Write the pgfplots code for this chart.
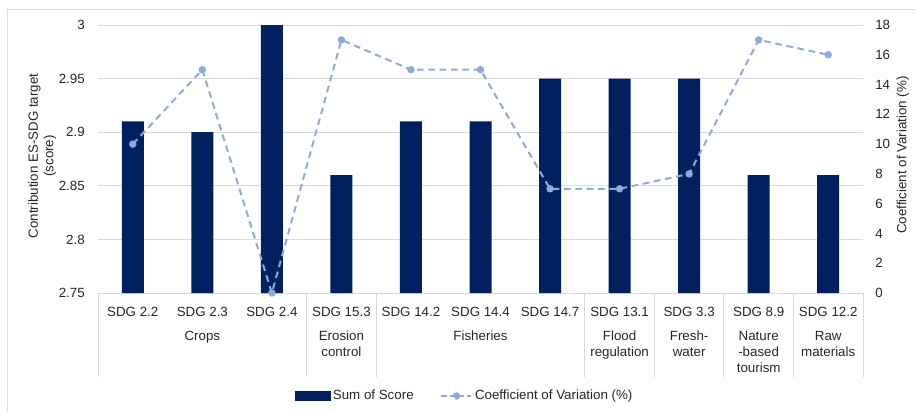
\documentclass[border=0pt]{standalone}
\usepackage{fontspec}
\setmainfont{Liberation Sans}
\usepackage{pgfplots}
\pgfplotsset{compat=1.18}
\definecolor{navy}{HTML}{002060}
\definecolor{cvblue}{HTML}{8EA9DB}
\definecolor{gridgray}{HTML}{D9D9D9}
\definecolor{framegray}{HTML}{DDDDDD}
\definecolor{txt}{HTML}{262626}

\begin{document}
\fontsize{10}{12}\selectfont
\begin{tikzpicture}
\path[use as bounding box] (0,0) rectangle (687pt,-309pt);
\draw[framegray, line width=0.75pt] (5.25pt,-309pt) -- (5.25pt,-6.75pt) -- (687pt,-6.75pt);

% bars: sum of score
\begin{axis}[
    at={(73.5pt,-219.75pt)}, anchor=south west,
    scale only axis, width=573.75pt, height=201pt,
    xmin=-0.5, xmax=10.5,
    ymin=2.75, ymax=3,
    xtick={0,...,10},
    xticklabels={SDG 2.2,SDG 2.3,SDG 2.4,SDG 15.3,SDG 14.2,SDG 14.4,SDG 14.7,SDG 13.1,SDG 3.3,SDG 8.9,SDG 12.2},
    ytick={2.75,2.8,2.85,2.9,2.95,3},
    /pgf/number format/assume math mode=true,
    major tick length=0,
    axis line style={draw=none},
    ymajorgrids, grid style={gridgray, line width=0.75pt},
    tick label style={font=\fontsize{10}{12}\selectfont, text=txt},
    xticklabel style={yshift=-7pt},
    yticklabel style={xshift=-6.4pt},
    ybar, bar width=16.5pt,
    clip=false,
]
\addplot[fill=navy, draw=none] coordinates {
    (0,2.91) (1,2.90) (2,3.00) (3,2.86) (4,2.91) (5,2.91)
    (6,2.95) (7,2.95) (8,2.95) (9,2.86) (10,2.86)
};
% group separators
\draw[gridgray, line width=0.75pt] (axis cs:-0.5,2.75) -- ++(0pt,-63pt);
\draw[gridgray, line width=0.75pt] (axis cs:2.5,2.75) -- ++(0pt,-63pt);
\draw[gridgray, line width=0.75pt] (axis cs:3.5,2.75) -- ++(0pt,-63pt);
\draw[gridgray, line width=0.75pt] (axis cs:6.5,2.75) -- ++(0pt,-63pt);
\draw[gridgray, line width=0.75pt] (axis cs:7.5,2.75) -- ++(0pt,-63pt);
\draw[gridgray, line width=0.75pt] (axis cs:8.5,2.75) -- ++(0pt,-63pt);
\draw[gridgray, line width=0.75pt] (axis cs:9.5,2.75) -- ++(0pt,-63pt);
\draw[gridgray, line width=0.75pt] (axis cs:10.5,2.75) -- ++(0pt,-63pt);
% group names
\begin{scope}[every node/.style={anchor=north, align=center, inner sep=0pt, text=txt,
    font=\fontsize{10}{12}\selectfont, yshift=-28.5pt}]
\node at (axis cs:1,2.75) {Crops};
\node at (axis cs:3,2.75) {Erosion\\control};
\node at (axis cs:5,2.75) {Fisheries};
\node at (axis cs:7,2.75) {Flood\\regulation};
\node at (axis cs:8,2.75) {Fresh-\\water};
\node at (axis cs:9,2.75) {Nature\\-based\\tourism};
\node at (axis cs:10,2.75) {Raw\\materials};
\end{scope}
\end{axis}

% line: coefficient of variation
\begin{axis}[
    at={(73.5pt,-219.75pt)}, anchor=south west,
    scale only axis, width=573.75pt, height=201pt,
    xmin=-0.5, xmax=10.5,
    ymin=0, ymax=18,
    ytick={0,2,...,18},
    axis y line*=right, axis x line=none,
    axis line style={draw=none},
    /pgf/number format/assume math mode=true,
    major tick length=0,
    tick label style={font=\fontsize{10}{12}\selectfont, text=txt},
    yticklabel style={xshift=5.7pt},
    clip=false,
    legend columns=2,
    legend style={draw=none, fill=none, at={(axis description cs:0.5,0)}, anchor=center,
        yshift=-77.25pt, xshift=-11.6pt, font=\fontsize{10}{12}\selectfont, text=txt,
        /tikz/every even column/.style={column sep=18pt}},
]
\addlegendimage{legend image code/.code={\fill[navy] (0pt,-3.4pt) rectangle (26pt,3.4pt);}}
\addlegendentry{Sum of Score}
\addplot[cvblue, line width=1.5pt, dash pattern=on 5pt off 3.5pt, mark=*, mark size=2pt,
    mark options={solid},
    legend image code/.code={\draw[cvblue, line width=1.5pt, dash pattern=on 4pt off 2.5pt]
        (0pt,0pt) -- (22.5pt,0pt);
        \fill[cvblue] (11.25pt,0pt) circle (2pt);}]
    coordinates {
    (0,10) (1,15) (2,0) (3,17) (4,15) (5,15)
    (6,7) (7,7) (8,8) (9,17) (10,16)
};
\addlegendentry{Coefficient of Variation (\%)}
\end{axis}

\node[rotate=90, text=txt, inner sep=0pt, font=\fontsize{10}{11.5}\selectfont]
    at (31.9pt,-117pt) {\begin{tabular}{@{}c@{}}Contribution ES-SDG target\\(score)\end{tabular}};
\node[rotate=90, text=txt, inner sep=0pt, font=\fontsize{10}{12}\selectfont]
    at (677.25pt,-116.25pt) {Coefficient of Variation (\%)};
\end{tikzpicture}
\end{document}
